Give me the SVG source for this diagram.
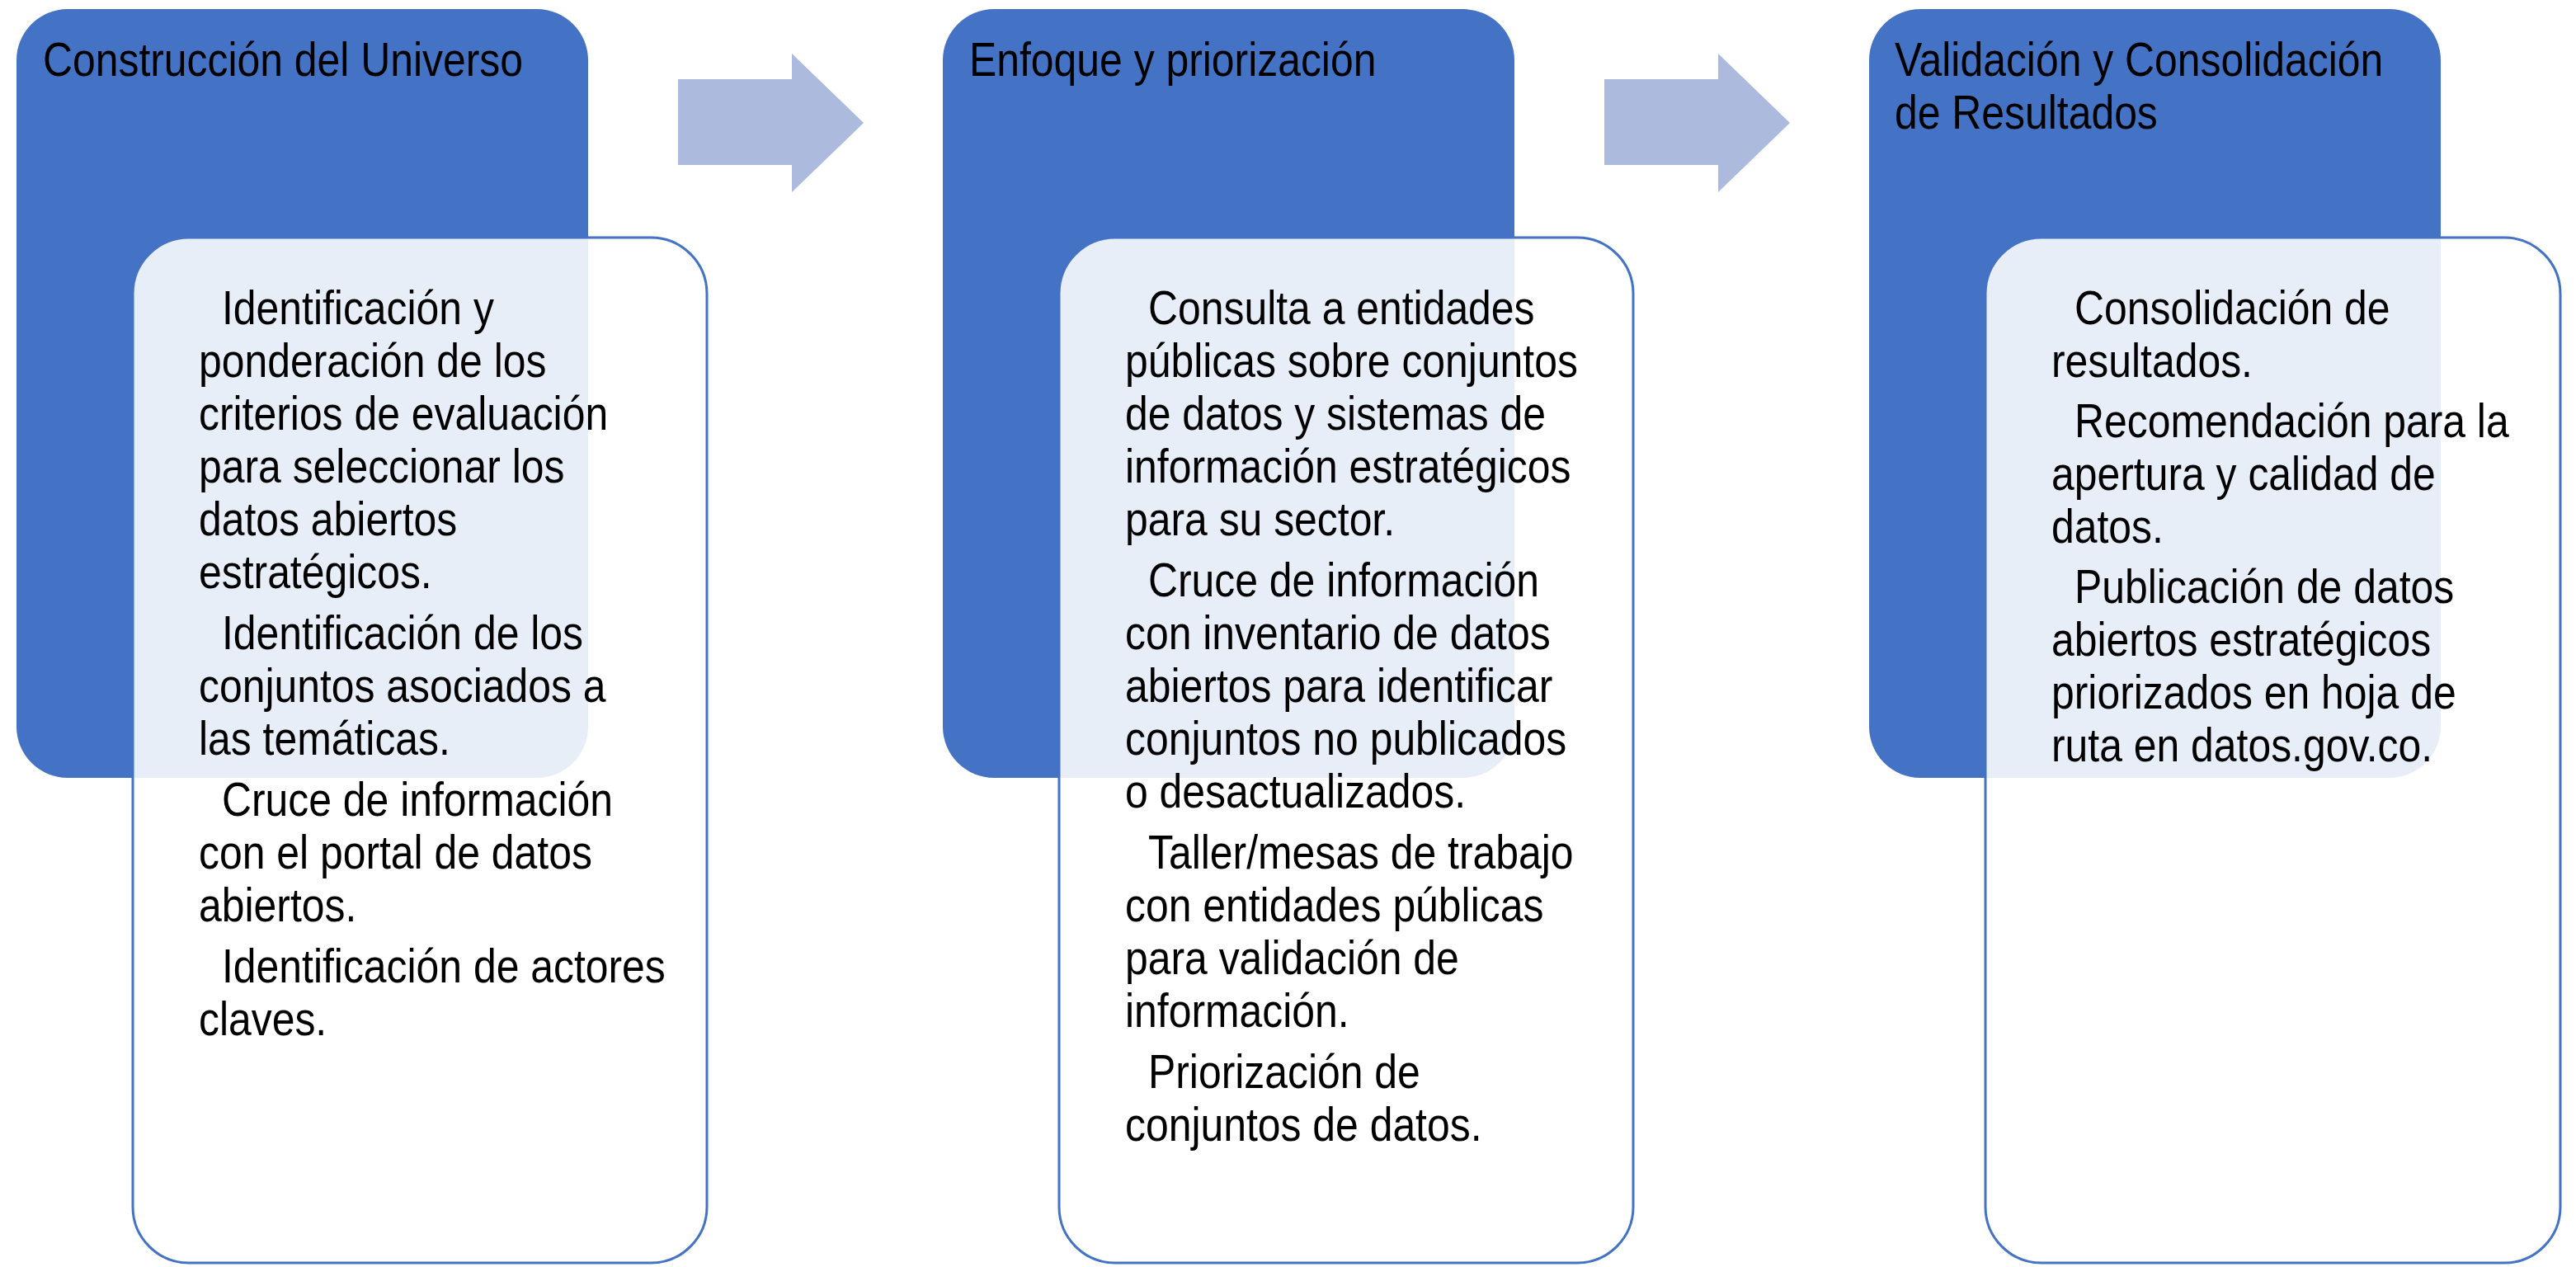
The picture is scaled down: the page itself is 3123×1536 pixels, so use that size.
<svg xmlns="http://www.w3.org/2000/svg" width="3123" height="1536" viewBox="0 0 3123 1536">
<style>
.head{fill:#4472C4;}
.card{fill:#FFFFFF;fill-opacity:0.88;stroke:#4472C4;stroke-width:3;}
.arrow{fill:#ACBADE;}
.t{font-family:"Liberation Sans",Arial,sans-serif;font-size:57px;fill:#000000;}
</style>
<rect x="0" y="0" width="3123" height="1536" fill="#FFFFFF"/>
<g id="connectors">
<polygon class="arrow" points="822,96 960,96 960,65 1047,149 960,233 960,200 822,200"/>
<polygon class="arrow" points="1945,96 2083,96 2083,65 2170,149 2083,233 2083,200 1945,200"/>
</g>
<g id="node1">
<rect class="head" x="20" y="11" width="693" height="932" rx="62" ry="62"/>
<rect class="card" x="161" y="288" width="696" height="1243" rx="68" ry="68"/>
<text class="t" transform="matrix(0.875 0 0 1 52 0)"><tspan x="0" y="92">Construcción del Universo</tspan></text>
<text class="t" transform="matrix(0.875 0 0 1 241 0)">
<tspan x="32" y="393">Identificación y</tspan>
<tspan x="0" y="457">ponderación de los</tspan>
<tspan x="0" y="521">criterios de evaluación</tspan>
<tspan x="0" y="585">para seleccionar los</tspan>
<tspan x="0" y="649">datos abiertos</tspan>
<tspan x="0" y="713">estratégicos.</tspan>
<tspan x="32" y="787">Identificación de los</tspan>
<tspan x="0" y="851">conjuntos asociados a</tspan>
<tspan x="0" y="915">las temáticas.</tspan>
<tspan x="32" y="989">Cruce de información</tspan>
<tspan x="0" y="1053">con el portal de datos</tspan>
<tspan x="0" y="1117">abiertos.</tspan>
<tspan x="32" y="1191">Identificación de actores</tspan>
<tspan x="0" y="1255">claves.</tspan>
</text>
</g>
<g id="node2">
<rect class="head" x="1143" y="11" width="693" height="932" rx="62" ry="62"/>
<rect class="card" x="1284" y="288" width="696" height="1243" rx="68" ry="68"/>
<text class="t" transform="matrix(0.875 0 0 1 1175 0)"><tspan x="0" y="92">Enfoque y priorización</tspan></text>
<text class="t" transform="matrix(0.875 0 0 1 1364 0)">
<tspan x="32" y="393">Consulta a entidades</tspan>
<tspan x="0" y="457">públicas sobre conjuntos</tspan>
<tspan x="0" y="521">de datos y sistemas de</tspan>
<tspan x="0" y="585">información estratégicos</tspan>
<tspan x="0" y="649">para su sector.</tspan>
<tspan x="32" y="723">Cruce de información</tspan>
<tspan x="0" y="787">con inventario de datos</tspan>
<tspan x="0" y="851">abiertos para identificar</tspan>
<tspan x="0" y="915">conjuntos no publicados</tspan>
<tspan x="0" y="979">o desactualizados.</tspan>
<tspan x="32" y="1053">Taller/mesas de trabajo</tspan>
<tspan x="0" y="1117">con entidades públicas</tspan>
<tspan x="0" y="1181">para validación de</tspan>
<tspan x="0" y="1245">información.</tspan>
<tspan x="32" y="1319">Priorización de</tspan>
<tspan x="0" y="1383">conjuntos de datos.</tspan>
</text>
</g>
<g id="node3">
<rect class="head" x="2266" y="11" width="693" height="932" rx="62" ry="62"/>
<rect class="card" x="2407" y="288" width="697" height="1243" rx="68" ry="68"/>
<text class="t" transform="matrix(0.875 0 0 1 2297 0)"><tspan x="0" y="92">Validación y Consolidación</tspan><tspan x="0" y="156">de Resultados</tspan></text>
<text class="t" transform="matrix(0.875 0 0 1 2487 0)">
<tspan x="32" y="393">Consolidación de</tspan>
<tspan x="0" y="457">resultados.</tspan>
<tspan x="32" y="530">Recomendación para la</tspan>
<tspan x="0" y="594">apertura y calidad de</tspan>
<tspan x="0" y="658">datos.</tspan>
<tspan x="32" y="731">Publicación de datos</tspan>
<tspan x="0" y="795">abiertos estratégicos</tspan>
<tspan x="0" y="859">priorizados en hoja de</tspan>
<tspan x="0" y="923">ruta en datos.gov.co.</tspan>
</text>
</g>
</svg>
